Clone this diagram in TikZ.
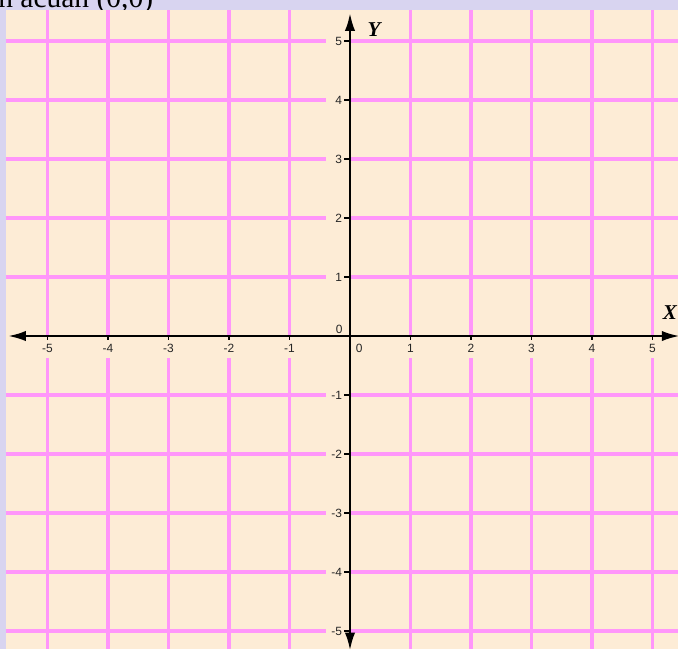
\documentclass[tikz,border=0pt]{standalone}
\usepackage{fontspec}
\setmainfont{Liberation Serif}
\setsansfont{Liberation Sans}
\usepackage{xcolor}
\usetikzlibrary{arrows.meta}
\definecolor{paper}{RGB}{253,236,214}
\definecolor{lilac}{RGB}{216,212,240}
\definecolor{gridpink}{RGB}{255,150,250}

\begin{document}
\begin{tikzpicture}[x=1.5125cm,y=1.475cm,
        gline/.style={gridpink,line width=2.4pt},
        axis/.style={black,line width=1.8pt,
                     {Latex[length=4.5mm,width=2.6mm]}-{Latex[length=4.5mm,width=2.6mm]}},
        tickmark/.style={black,line width=1pt},
        tlbl/.style={font=\sffamily\fontsize{8.5}{9}\selectfont,text=black!85,
                     inner sep=0.5pt},
        aname/.style={font=\bfseries\itshape\fontsize{15}{15}\selectfont,
                      inner sep=0pt}]
        \useasboundingbox (-5.785,-5.305) rectangle (5.421,5.695);
        \clip (-5.785,-5.305) rectangle (5.421,5.695);
        \fill[lilac] (-5.785,-5.305) rectangle (5.421,5.695);
        \node[anchor=base west,inner sep=0pt,font=\fontsize{21}{21}\selectfont]
          (title) at (-5.818,5.576) {n acuan (0,0)};
        \fill[paper] (-5.686,-5.305) rectangle (5.421,5.525);
        \foreach \i in {-5,-4,-3,-2,-1,1,2,3,4,5}{
          \draw[gline] (\i,5.525) -- (\i,0);
          \draw[gline] (\i,-0.373) -- (\i,-5.305);
          \draw[gline] (-5.686,\i) -- (-0.397,\i);
          \draw[gline] (0,\i) -- (5.421,\i);
        }
        \coordinate (xneg) at (-5.653,0);
        \coordinate (xpos) at (5.45,0);
        \coordinate (ypos) at (0,5.475);
        \coordinate (yneg) at (0,-5.33);
        \draw[axis] (xneg) -- (xpos);
        \draw[axis] (yneg) -- (ypos);
        \foreach \i in {-5,-4,-3,-2,-1,1,2,3,4,5}{
          \draw[tickmark] (\i,0) -- (\i,-0.07);
          \draw[tickmark] (0,\i) -- (-0.1,\i);
          \node[tlbl] (xl\i) at (\i,-0.203) {\i};
          \node[tlbl,anchor=east] (yl\i) at (-0.115,\i) {\i};
        }
        \node[tlbl] (zx) at (0.15,-0.203) {0};
        \node[tlbl] (zy) at (-0.18,0.12) {0};
        \node[aname] (xname) at (5.289,0.39) {X};
        \node[aname] (yname) at (0.397,5.186) {Y};
      \end{tikzpicture}
\end{document}
